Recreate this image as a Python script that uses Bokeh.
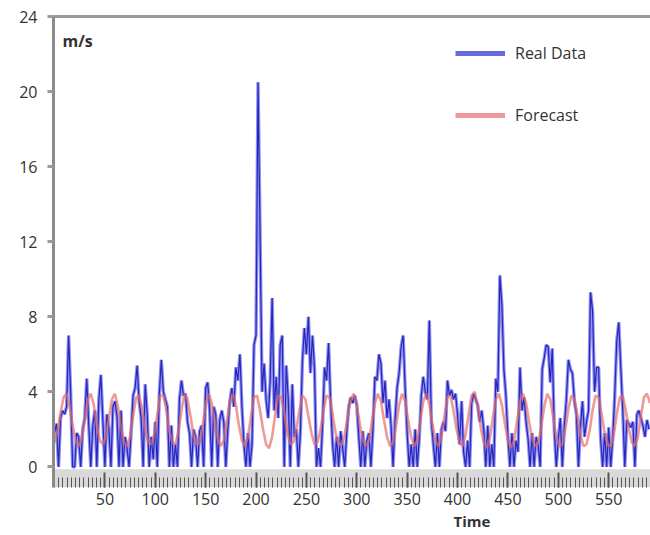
from bokeh.plotting import figure
from bokeh.models import (Range1d, FixedTicker, BoxAnnotation, Label, Legend, LegendItem,
                          LinearAxis, Title)
from bokeh.embed import file_html
from bokeh.resources import INLINE

# ---------------- data ----------------
# Real wind speed (m/s), one value every 2 time steps, starting at t=0
real_step = 2
real_values = [
    1.8, 2.3, 0, 2.6, 3.0, 2.8, 3.2, 7.0, 4.0, 0,
    0, 1.8, 1.6, 0, 2.0, 2.6, 4.7, 2.2, 0, 2.2,
    3.0, 0, 3.6, 4.9, 2.5, 0, 2.8, 2.0, 0, 3.2,
    3.5, 2.7, 0, 3.0, 0, 1.6, 1.0, 0, 1.8, 3.8,
    4.2, 5.4, 3.5, 2.6, 0, 4.4, 2.8, 0, 1.6, 0.4,
    2.4, 0, 3.9, 5.7, 4.0, 3.6, 3.2, 0, 2.2, 0,
    1.2, 0, 3.6, 4.6, 3.8, 3.9, 2.4, 1.8, 0, 2.0,
    1.6, 0, 1.9, 2.2, 0, 4.2, 4.5, 3.0, 0, 3.2,
    2.8, 0, 2.5, 3.0, 2.4, 0, 2.0, 3.5, 4.2, 3.2,
    5.3, 4.6, 6.0, 3.2, 1.2, 0, 1.8, 0, 1.2, 6.5,
    7.0, 20.5, 12.5, 4.0, 5.5, 3.6, 2.6, 4.5, 9.0, 3.0,
    4.8, 2.6, 6.5, 7.0, 0, 5.4, 3.6, 0, 4.4, 1.6,
    2.0, 0, 1.8, 5.6, 7.4, 6.0, 8.0, 5.0, 7.0, 5.3,
    0, 1.0, 0, 2.2, 5.3, 4.6, 6.6, 3.5, 1.2, 0,
    1.6, 0, 1.9, 1.0, 0, 1.8, 3.2, 3.7, 3.4, 3.8,
    3.3, 1.6, 0, 1.9, 0, 1.4, 1.8, 0, 2.0, 4.8,
    4.6, 6.0, 5.5, 3.4, 4.6, 2.6, 3.6, 2.2, 0, 2.5,
    4.2, 5.0, 6.4, 7.0, 4.2, 1.8, 0, 1.2, 0, 2.0,
    0, 1.5, 3.8, 4.8, 4.0, 3.6, 7.8, 2.4, 1.2, 0,
    1.8, 0, 2.0, 2.4, 1.9, 4.6, 3.8, 4.1, 3.6, 3.9,
    2.8, 1.2, 3.5, 0.8, 0, 1.4, 0, 3.4, 3.9, 3.6,
    3.3, 2.4, 3.0, 2.0, 0, 2.2, 0, 1.2, 0, 4.7,
    4.0, 10.2, 8.6, 5.2, 3.8, 1.6, 0, 1.8, 0, 1.4,
    0.8, 5.3, 3.0, 3.7, 2.4, 1.5, 0, 1.8, 0, 1.6,
    1.2, 0, 5.2, 5.8, 6.5, 6.4, 4.5, 6.3, 2.0, 0,
    1.5, 2.6, 0, 2.2, 3.6, 5.7, 5.2, 5.0, 3.5, 2.8,
    0, 2.2, 3.5, 1.6, 2.4, 3.0, 9.3, 8.3, 4.0, 5.3,
    5.3, 1.5, 0, 1.8, 0, 2.1, 0, 1.5, 3.8, 6.7,
    7.7, 5.3, 3.0, 0, 2.5, 2.3, 2.1, 2.4, 0, 2.8,
    3.0, 2.6, 2.2, 1.6, 2.5, 2.0,
]

# Forecast (m/s), one value every 3 time steps, starting at t=0
forecast_step = 3
forecast_values = [
    1.3, 1.9, 2.9, 3.7, 3.9, 3.2, 2.2, 1.4,
    1.1, 1.5, 2.5, 3.6, 3.9, 3.3, 2.2, 1.4,
    1.2, 1.6, 2.6, 3.6, 3.9, 3.2, 2.1, 1.3,
    1.1, 1.6, 2.7, 3.7, 3.8, 3.1, 2.0, 1.3,
    1.2, 1.7, 2.8, 3.8, 3.8, 3.0, 1.9, 1.3,
    1.2, 1.9, 3.0, 3.9, 3.6, 2.7, 1.7, 1.2,
    1.3, 2.2, 3.3, 3.9, 3.4, 2.4, 1.5, 1.1,
    1.4, 2.4, 3.5, 3.9, 3.3, 2.2, 1.4, 1.1,
    1.6, 2.7, 3.7, 3.8, 3.0, 2.0, 1.2, 1.0,
    1.6, 2.8, 3.8, 3.7, 2.9, 1.9, 1.2, 1.3,
    2.0, 3.0, 3.8, 3.6, 2.7, 1.8, 1.2, 1.3,
    2.0, 3.0, 3.8, 3.7, 2.8, 1.8, 1.2, 1.2,
    1.7, 2.7, 3.6, 3.9, 3.3, 2.3, 1.4, 1.1,
    1.4, 2.4, 3.4, 3.9, 3.5, 2.5, 1.6, 1.1,
    1.3, 2.2, 3.3, 3.9, 3.5, 2.5, 1.6, 1.1,
    1.4, 2.4, 3.5, 3.9, 3.3, 2.3, 1.4, 1.1,
    1.6, 2.7, 3.7, 3.8, 3.0, 2.0, 1.3, 1.1,
    1.7, 2.8, 3.8, 4.0, 3.2, 2.1, 1.3, 1.0,
    1.5, 2.6, 3.6, 3.9, 3.3, 2.3, 1.4, 1.0,
    1.4, 2.4, 3.5, 3.9, 3.4, 2.4, 1.5, 1.1,
    1.3, 2.1, 3.2, 3.9, 3.6, 2.6, 1.6, 1.1,
    1.2, 2.0, 3.1, 3.8, 3.6, 2.7, 1.7, 1.1,
    1.2, 1.9, 3.0, 3.8, 3.7, 2.8, 1.8, 1.2,
    1.1, 1.7, 2.8, 3.7, 3.8, 3.0, 2.0, 1.3,
    1.1, 1.6, 2.7, 3.7, 3.9, 3.4,
]

x_tick_values = [50, 100, 150, 200, 250, 300, 350, 400, 450, 500, 550]
y_tick_values = [0, 4, 8, 12, 16, 20, 24]
series_labels = ["Real Data", "Forecast"]
unit_label = "m/s"
x_title = "Time"

real_t = [i * real_step for i in range(len(real_values))]
forecast_t = [i * forecast_step for i in range(len(forecast_values))]

FONT = "Open Sans"
TXT = "#333333"

p = figure(width=650, height=535, output_backend="svg", toolbar_location=None,
           x_range=Range1d(-1, 591.5), y_range=Range1d(-1.1, 24),
           min_border_left=53, min_border_right=0, min_border_top=16, min_border_bottom=48,
           background_fill_color="white", border_fill_color="white")
p.outline_line_color = None
p.grid.visible = False

xa = p.below[0]
ya = p.left[0]

# grey band under the zero line that holds the x ticks
p.add_layout(BoxAnnotation(top=-0.13, fill_color="#d9d9d9", fill_alpha=1.0,
                           line_color=None, level="underlay"))

# top border line
top_axis = LinearAxis(major_tick_in=0, major_tick_out=0, minor_tick_in=0, minor_tick_out=0,
                      major_label_text_font_size="0px", major_label_standoff=0,
                      axis_line_color="#9a9a9a", axis_line_width=3,
                      ticker=FixedTicker(ticks=[]))
p.add_layout(top_axis, "above")

# y axis
ya.ticker = FixedTicker(ticks=y_tick_values)
ya.axis_line_color = "#8a8a8a"
ya.axis_line_width = 3
ya.major_tick_out = 6
ya.major_tick_in = 0
ya.major_tick_line_color = "#9a9a9a"
ya.major_tick_line_width = 3
ya.minor_tick_line_color = None
ya.major_label_standoff = 10
ya.major_label_text_font = FONT
ya.major_label_text_font_size = "16px"
ya.major_label_text_color = TXT

# x axis
xa.ticker = FixedTicker(ticks=x_tick_values,
                        minor_ticks=[k * 50 / 12 for k in range(0, 143)])
xa.axis_line_color = None
xa.major_tick_in = 15
xa.major_tick_out = 0
xa.minor_tick_in = 10
xa.minor_tick_out = 0
xa.major_tick_line_color = "#555555"
xa.major_tick_line_width = 2
xa.minor_tick_line_color = "#555555"
xa.minor_tick_line_width = 1
xa.major_label_standoff = 5
xa.major_label_text_font = FONT
xa.major_label_text_font_size = "16px"
xa.major_label_text_color = TXT

p.add_layout(Title(text=x_title, align="left", offset=400, text_font=FONT,
                   text_font_size="15px", text_font_style="bold", text_color=TXT,
                   standoff=2), "below")

# series
p.line(real_t, real_values, line_color="#7474f2", line_width=3.4, line_alpha=0.8)
p.line(real_t, real_values, line_color="#1c1cb0", line_width=1.2, line_alpha=0.9)
p.line(forecast_t, forecast_values, line_color="#e66a66", line_width=2.6, line_alpha=0.68)

# legend proxies (a single point, which draws no visible line)
leg_real = p.line(real_t[:1], real_values[:1], line_color="#6a6ae0", line_width=5)
leg_fc = p.line(forecast_t[:1], forecast_values[:1], line_color="#ec9a9a", line_width=5)
legend = Legend(items=[LegendItem(label=series_labels[0], renderers=[leg_real]),
                       LegendItem(label=series_labels[1], renderers=[leg_fc])],
                location=(402, 361), orientation="vertical",
                glyph_width=50, glyph_height=20, label_standoff=10, spacing=40,
                padding=0, margin=0, border_line_color=None, background_fill_alpha=0,
                label_text_font=FONT, label_text_font_size="16px", label_text_color=TXT)
p.add_layout(legend, "center")

p.add_layout(Label(x=9, y=447, x_units="screen", y_units="screen", text=unit_label,
                   text_font=FONT, text_font_size="16px", text_font_style="bold",
                   text_color=TXT, text_baseline="middle"))

open("out.html", "w").write(file_html(p, INLINE))
